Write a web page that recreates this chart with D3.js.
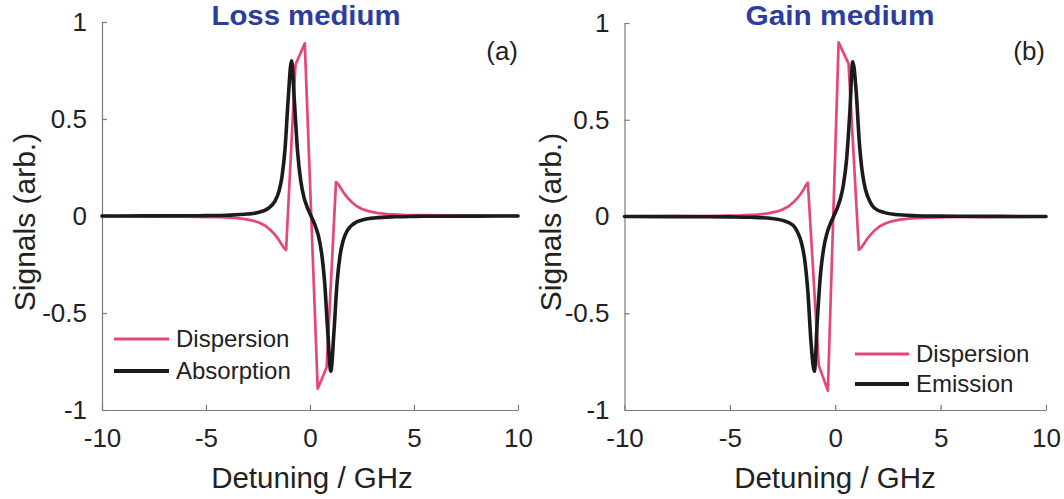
<!DOCTYPE html>
<html>
<head>
<meta charset="utf-8">
<script src="https://cdn.jsdelivr.net/npm/d3@7"></script>
<style>
  html, body { margin: 0; padding: 0; background: #ffffff; }
  svg { display: block; font-family: "Liberation Sans", Arial, Helvetica, sans-serif; }
</style>
</head>
<body>
<svg id="chart" width="1064" height="499"></svg>
<script>
// ---------------- data ----------------
const xTicks = [-10, -5, 0, 5, 10];
const yTicks = [-1, -0.5, 0, 0.5, 1];
const xTickLabels = ["-10", "-5", "0", "5", "10"];
const yTickLabels = ["-1", "-0.5", "0", "0.5", "1"];

const panelTitles = ["Loss medium", "Gain medium"];
const panelTags = ["(a)", "(b)"];
const legendA = ["Dispersion", "Absorption"];
const legendB = ["Dispersion", "Emission"];

// Panel (a): loss medium
const lossDispX = [-10, -7, -5.4, -4.4, -3.6, -3.1, -2.7, -2.4, -2.15, -1.9, -1.7, -1.55, -1.4, -1.25, -1.15, -0.7, -0.25, 0.37, 0.8, 1.25, 1.35, 1.5, 1.65, 1.8, 2.0, 2.25, 2.5, 2.8, 3.2, 3.7, 4.5, 5.5, 7, 10];
const lossDispY = [-0.001, -0.002, -0.004, -0.006, -0.01, -0.016, -0.025, -0.036, -0.05, -0.072, -0.095, -0.115, -0.14, -0.165, -0.175, 0.78, 0.89, -0.89, -0.78, 0.175, 0.165, 0.14, 0.115, 0.095, 0.072, 0.05, 0.036, 0.025, 0.016, 0.01, 0.006, 0.004, 0.002, 0.001];

const lossAbsX = [-10, -8, -6, -5, -4, -3, -2.5, -2, -1.7, -1.5, -1.35, -1.2, -1.05, -0.89, -0.75, -0.6, -0.45, -0.3, -0.15, 0.05, 0.25, 0.4, 0.55, 0.7, 0.85, 1.0, 1.15, 1.3, 1.45, 1.6, 1.8, 2.1, 2.6, 3.1, 4.1, 5.1, 6.1, 8.1, 10];
const lossAbsY = [0.0002, 0.0004, 0.001, 0.002, 0.004, 0.01, 0.018, 0.04, 0.074, 0.125, 0.2, 0.346, 0.6, 0.8, 0.59, 0.336, 0.185, 0.1, 0.05, 0, -0.05, -0.1, -0.185, -0.336, -0.59, -0.8, -0.6, -0.346, -0.2, -0.125, -0.074, -0.04, -0.018, -0.01, -0.004, -0.002, -0.001, -0.0004, -0.0002];

// Panel (b): gain medium
const gainDispX = [-10, -7, -5.5, -4.5, -3.7, -3.2, -2.8, -2.5, -2.25, -2.0, -1.8, -1.65, -1.5, -1.38, -1.3, -0.78, -0.35, 0.16, 0.63, 1.12, 1.22, 1.37, 1.52, 1.67, 1.87, 2.12, 2.37, 2.67, 3.07, 3.57, 4.37, 5.37, 7, 10];
const gainDispY = [0.001, 0.002, 0.004, 0.006, 0.01, 0.016, 0.025, 0.036, 0.05, 0.072, 0.095, 0.115, 0.14, 0.165, 0.175, -0.77, -0.9, 0.9, 0.79, -0.172, -0.162, -0.14, -0.115, -0.095, -0.072, -0.05, -0.036, -0.025, -0.016, -0.01, -0.006, -0.004, -0.002, -0.001];

const gainEmiX = [-10, -8, -6, -5, -4, -3, -2.5, -2, -1.8, -1.6, -1.45, -1.3, -1.15, -0.99, -0.85, -0.7, -0.55, -0.4, -0.25, -0.08, 0.09, 0.24, 0.39, 0.54, 0.69, 0.83, 0.99, 1.14, 1.29, 1.44, 1.64, 1.84, 2.34, 2.84, 3.84, 4.84, 5.84, 7.84, 10];
const gainEmiY = [-0.0002, -0.0004, -0.001, -0.002, -0.004, -0.01, -0.02, -0.045, -0.079, -0.137, -0.223, -0.387, -0.65, -0.8, -0.534, -0.297, -0.165, -0.09, -0.042, 0, 0.042, 0.09, 0.165, 0.297, 0.534, 0.8, 0.65, 0.387, 0.223, 0.137, 0.079, 0.045, 0.02, 0.01, 0.004, 0.002, 0.001, 0.0004, 0.0002];

// ---------------- drawing ----------------
const PINK = "#e5467b";
const BLACK = "#1b1b1b";
const BLUE = "#2c3d9e";
const AXIS = "#7a7a7a";
const TEXT = "#222222";

const svg = d3.select("#chart");

const panels = [
  {
    x0: 102, x1: 518, yTop: 22, yBot: 410,
    title: panelTitles[0], titleX: 306, tag: panelTags[0], tagX: 518,
    series: [
      { xs: lossDispX, ys: lossDispY, color: PINK, width: 2.7, curve: d3.curveLinear },
      { xs: lossAbsX, ys: lossAbsY, color: BLACK, width: 3.6, curve: d3.curveMonotoneX }
    ],
    legend: legendA, legX0: 114, legX1: 169, legY: [339, 371], yLabelX: 35, xLabelX: 312
  },
  {
    x0: 624.5, x1: 1046, yTop: 23, yBot: 410,
    title: panelTitles[1], titleX: 840, tag: panelTags[1], tagX: 1045,
    series: [
      { xs: gainDispX, ys: gainDispY, color: PINK, width: 2.7, curve: d3.curveLinear },
      { xs: gainEmiX, ys: gainEmiY, color: BLACK, width: 3.6, curve: d3.curveMonotoneX }
    ],
    legend: legendB, legX0: 855, legX1: 909, legY: [354, 384], yLabelX: 561, xLabelX: 835
  }
];

panels.forEach(p => {
  const x = d3.scaleLinear().domain([-10, 10]).range([p.x0, p.x1]);
  const y = d3.scaleLinear().domain([-1, 1]).range([p.yBot, p.yTop]);
  const g = svg.append("g");

  // x axis
  const xAxis = d3.axisBottom(x).tickValues(xTicks)
    .tickFormat((d, i) => xTickLabels[i])
    .tickSizeInner(-5).tickSizeOuter(0).tickPadding(19);
  const gx = g.append("g").attr("transform", `translate(0,${p.yBot})`).call(xAxis);
  gx.select(".domain").attr("stroke", AXIS).attr("stroke-width", 1.2);
  gx.selectAll(".tick line").attr("stroke", AXIS).attr("stroke-width", 1.2);
  gx.selectAll(".tick text").attr("font-size", 26).attr("fill", TEXT)
    .attr("font-family", "Liberation Sans, Arial, sans-serif");

  // y axis
  const yAxis = d3.axisLeft(y).tickValues(yTicks)
    .tickFormat((d, i) => yTickLabels[i])
    .tickSizeInner(-5).tickSizeOuter(0).tickPadding(15);
  const gy = g.append("g").attr("transform", `translate(${p.x0},0)`).call(yAxis);
  gy.select(".domain").attr("stroke", AXIS).attr("stroke-width", 1.2);
  gy.selectAll(".tick line").attr("stroke", AXIS).attr("stroke-width", 1.2);
  gy.selectAll(".tick text").attr("font-size", 26).attr("fill", TEXT)
    .attr("font-family", "Liberation Sans, Arial, sans-serif");

  // lines
  p.series.forEach(s => {
    const line = d3.line().x(d => x(d[0])).y(d => y(d[1])).curve(s.curve);
    const pts = s.xs.map((v, i) => [v, s.ys[i]]);
    g.append("path").datum(pts)
      .attr("d", line)
      .attr("fill", "none")
      .attr("stroke", s.color)
      .attr("stroke-width", s.width)
      .attr("stroke-linejoin", "round")
      .attr("stroke-linecap", "round");
  });

  // title
  g.append("text").attr("x", p.titleX).attr("y", 25)
    .attr("text-anchor", "middle").attr("font-size", 28).attr("font-weight", "bold")
    .attr("textLength", 189).attr("lengthAdjust", "spacingAndGlyphs")
    .attr("fill", BLUE).text(p.title);

  // tag
  g.append("text").attr("x", p.tagX).attr("y", 60)
    .attr("text-anchor", "end").attr("font-size", 26).attr("fill", TEXT).text(p.tag);

  // axis labels
  g.append("text").attr("x", p.xLabelX).attr("y", 488)
    .attr("text-anchor", "middle").attr("font-size", 29.5).attr("fill", TEXT)
    .text("Detuning / GHz");
  g.append("text")
    .attr("transform", `translate(${p.yLabelX},222) rotate(-90)`)
    .attr("text-anchor", "middle").attr("font-size", 30).attr("fill", TEXT)
    .text("Signals (arb.)");

  // legend
  p.series.forEach((s, i) => {
    const ly = p.legY[i];
    g.append("line").attr("x1", p.legX0).attr("x2", p.legX1)
      .attr("y1", ly).attr("y2", ly)
      .attr("stroke", s.color).attr("stroke-width", s.width + 0.3);
    g.append("text").attr("x", p.legX1 + 7).attr("y", ly + 8)
      .attr("font-size", 24).attr("fill", TEXT).text(p.legend[i]);
  });
});
</script>
</body>
</html>
